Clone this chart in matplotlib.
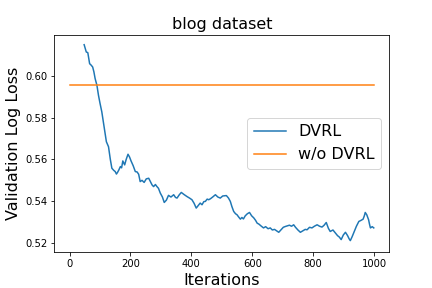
import matplotlib
matplotlib.use("Agg")
import matplotlib.pyplot as plt

# curva DVRL (iteração, log loss de validação)
iters = [48, 55, 60, 66, 71, 76, 80, 84, 90, 95, 100, 106, 113, 121, 128, 134, 139,
         145, 150, 154, 158, 162, 167, 171, 175, 181, 186, 192, 197, 202, 209, 216,
         222, 227, 232, 238, 245, 252, 260, 266, 271, 276, 282, 287, 292, 298, 305,
         311, 318, 325, 333, 342, 348, 353, 360, 367, 376, 386, 394, 402, 409, 416,
         422, 429, 435, 441, 446, 452, 457, 463, 470, 479, 487, 495, 503, 511, 515,
         522, 528, 533, 539, 545, 550, 555, 561, 566, 571, 577, 584, 591, 598, 605,
         611, 616, 622, 630, 637, 644, 652, 659, 666, 673, 680, 687, 694, 702, 709,
         716, 722, 729, 736, 742, 750, 758, 766, 774, 780, 788, 796, 804, 813, 821,
         829, 836, 843, 850, 856, 865, 873, 880, 886, 892, 899, 906, 913, 918, 922,
         928, 935, 942, 950, 957, 964, 968, 971, 976, 982, 985, 988, 994, 999]
dvrl = [0.6150, 0.6115, 0.6112, 0.6059, 0.6052, 0.6043, 0.6020, 0.5988, 0.5955, 0.5908,
        0.5870, 0.5828, 0.5760, 0.5685, 0.5661, 0.5600, 0.5558, 0.5548, 0.5542, 0.5530,
        0.5539, 0.5550, 0.5566, 0.5560, 0.5593, 0.5574, 0.5600, 0.5625, 0.5612, 0.5593,
        0.5570, 0.5542, 0.5540, 0.5529, 0.5494, 0.5500, 0.5490, 0.5507, 0.5510, 0.5492,
        0.5478, 0.5470, 0.5480, 0.5470, 0.5462, 0.5439, 0.5420, 0.5394, 0.5405, 0.5428,
        0.5420, 0.5431, 0.5418, 0.5415, 0.5430, 0.5442, 0.5432, 0.5422, 0.5415, 0.5407,
        0.5390, 0.5367, 0.5378, 0.5391, 0.5383, 0.5398, 0.5399, 0.5410, 0.5407, 0.5412,
        0.5420, 0.5431, 0.5420, 0.5415, 0.5425, 0.5426, 0.5427, 0.5415, 0.5399, 0.5375,
        0.5351, 0.5340, 0.5335, 0.5325, 0.5314, 0.5322, 0.5315, 0.5330, 0.5340, 0.5346,
        0.5330, 0.5320, 0.5308, 0.5295, 0.5290, 0.5280, 0.5272, 0.5278, 0.5268, 0.5272,
        0.5262, 0.5265, 0.5258, 0.5251, 0.5262, 0.5275, 0.5279, 0.5282, 0.5285, 0.5280,
        0.5287, 0.5275, 0.5262, 0.5251, 0.5258, 0.5265, 0.5263, 0.5275, 0.5272, 0.5280,
        0.5287, 0.5280, 0.5276, 0.5285, 0.5298, 0.5270, 0.5255, 0.5262, 0.5248, 0.5235,
        0.5228, 0.5216, 0.5238, 0.5251, 0.5235, 0.5220, 0.5211, 0.5230, 0.5255, 0.5280,
        0.5303, 0.5308, 0.5314, 0.5330, 0.5346, 0.5335, 0.5311, 0.5290, 0.5272, 0.5278,
        0.5272]

# baseline sem DVRL (constante)
base_x = [0, 1000]
base_y = [0.5955, 0.5955]

fig = plt.figure(figsize=(6, 4), dpi=72)
ax = fig.add_axes([54.3 / 432, 1 - 251.7 / 288, (389.3 - 54.3) / 432, (251.7 - 35.3) / 288])

ax.plot(iters, dvrl, label="DVRL")
ax.plot(base_x, base_y, label="w/o DVRL")

ax.set_xlim(-50, 1050)
ax.set_ylim(0.5158, 0.6195)
ax.set_yticks([0.52, 0.54, 0.56, 0.58, 0.60])
ax.set_xticks([0, 200, 400, 600, 800, 1000])

ax.set_title("blog dataset", fontsize=16)
ax.set_xlabel("Iterations", fontsize=16)
ax.set_ylabel("Validation Log Loss", fontsize=16)
ax.legend(loc="center right", fontsize=16)

plt.savefig("out.png", dpi=72)
